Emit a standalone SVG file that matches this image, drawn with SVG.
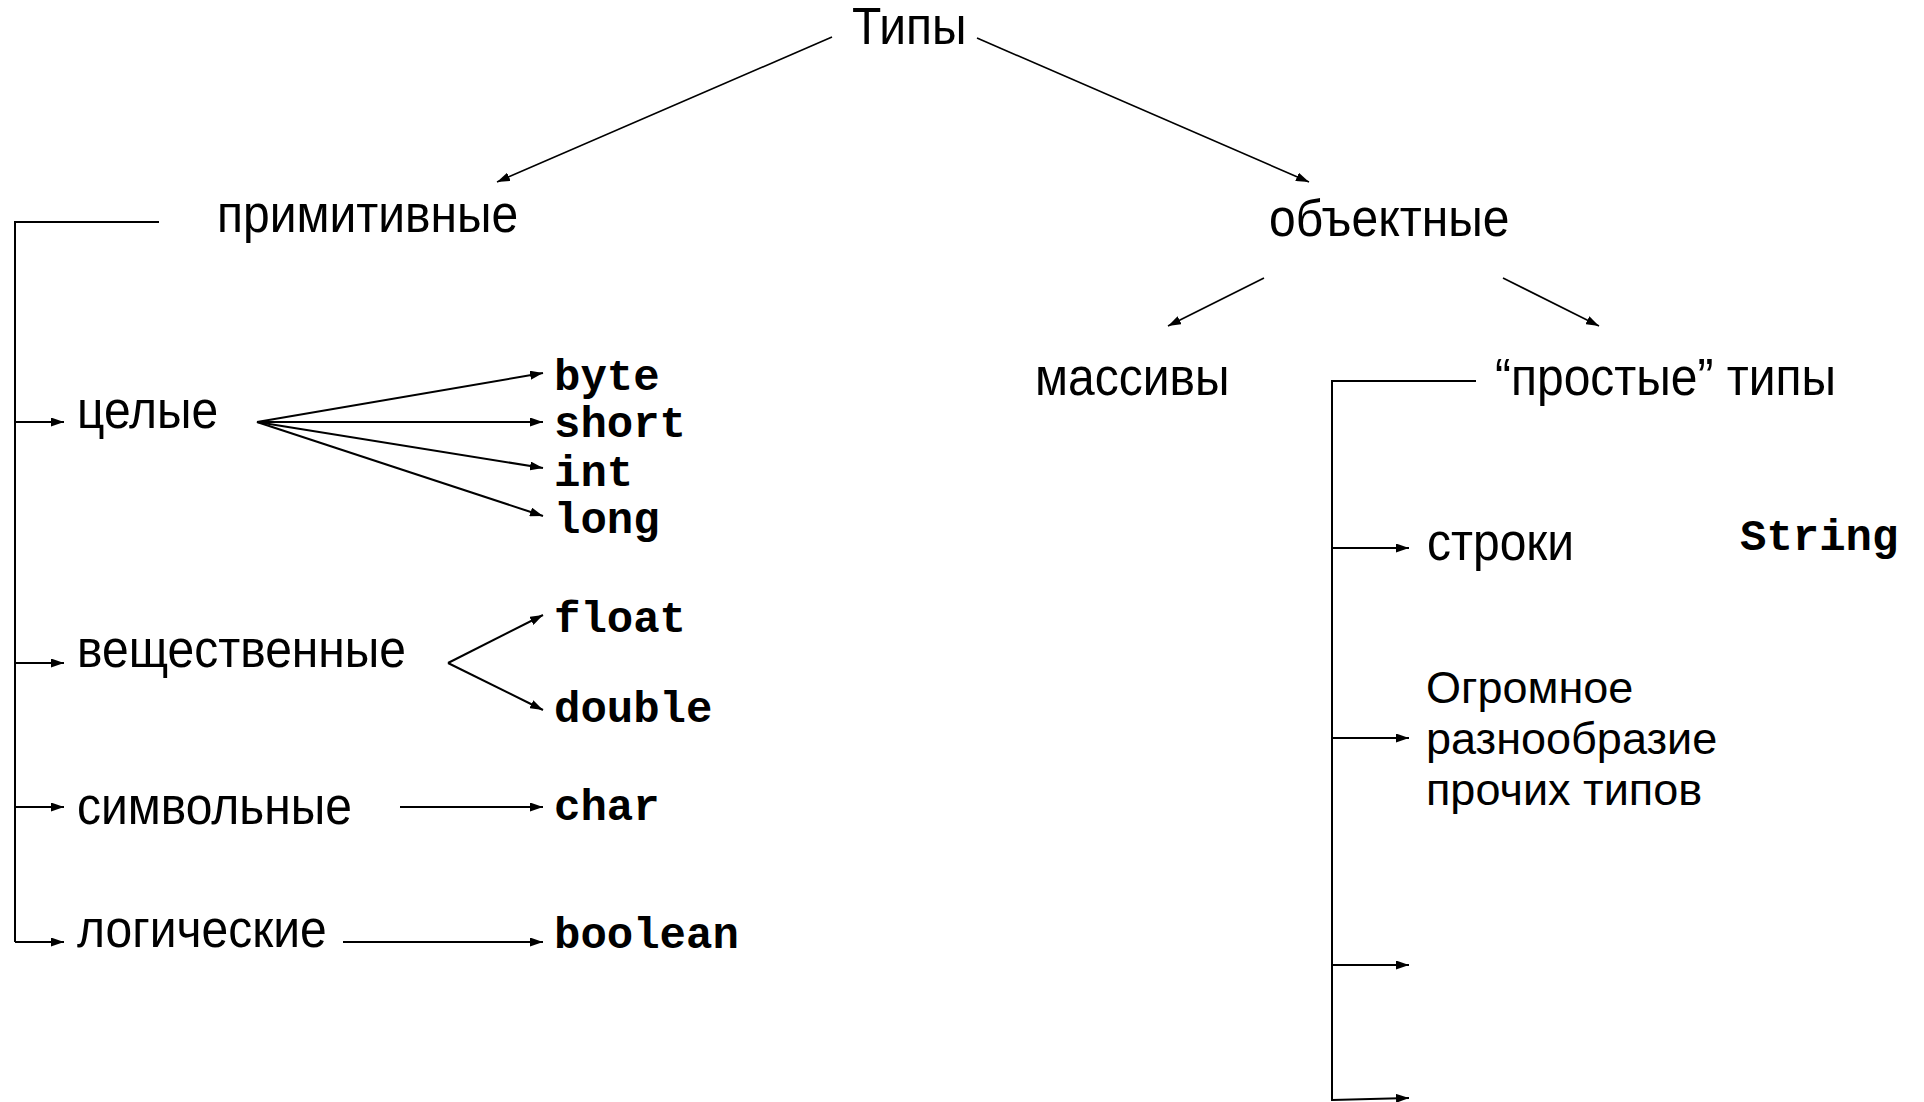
<svg xmlns="http://www.w3.org/2000/svg" width="1924" height="1102" viewBox="0 0 1924 1102">
<defs>
<marker id="ah" markerUnits="userSpaceOnUse" markerWidth="13" markerHeight="9" refX="13" refY="4.5" orient="auto">
<path d="M0,0 L13,4.5 L0,9 z" fill="#000"/>
</marker>
</defs>
<style>
.t{font-family:"Liberation Sans",Arial,sans-serif;font-size:48px;fill:#000}
.m{font-family:"Liberation Mono","Courier New",monospace;font-size:44px;font-weight:bold;fill:#000}
.c line,.c polyline{stroke:#000;stroke-width:2;fill:none}
.c .a{marker-end:url(#ah)}
.c .thin{stroke-width:1.6}
</style>
<rect width="1924" height="1102" fill="#fff"/>
<g id="n-types"><text class="t" transform="translate(852,44) scale(1,1.08)">Типы</text></g>
<g id="n-prim"><text class="t" transform="translate(217,232) scale(1,1.08)">примитивные</text></g>
<g id="n-obj"><text class="t" transform="translate(1269,236) scale(1,1.08)">объектные</text></g>
<g id="n-arr"><text class="t" transform="translate(1035,395) scale(1,1.08)">массивы</text></g>
<g id="n-simple"><text class="t" transform="translate(1495,395) scale(1,1.08)">“простые” типы</text></g>
<g id="n-int"><text class="t" transform="translate(77,428) scale(1,1.08)">целые</text></g>
<g id="n-real"><text class="t" transform="translate(77,667) scale(1,1.08)">вещественные</text></g>
<g id="n-sym"><text class="t" transform="translate(77,824) scale(1,1.08)">символьные</text></g>
<g id="n-log"><text class="t" transform="translate(77,947) scale(1,1.08)">логические</text></g>
<g id="n-byte"><text class="m" x="554" y="390">byte</text></g>
<g id="n-short"><text class="m" x="554" y="437">short</text></g>
<g id="n-intk"><text class="m" x="554" y="486">int</text></g>
<g id="n-long"><text class="m" x="554" y="533">long</text></g>
<g id="n-float"><text class="m" x="554" y="632">float</text></g>
<g id="n-double"><text class="m" x="554" y="722">double</text></g>
<g id="n-char"><text class="m" x="554" y="820">char</text></g>
<g id="n-boolean"><text class="m" x="554" y="948">boolean</text></g>
<g id="n-str"><text class="t" transform="translate(1427,560) scale(1,1.08)">строки</text></g>
<g id="n-String"><text class="m" x="1740" y="550">String</text></g>
<g id="n-other"><text class="t" style="font-size:45px" x="1426" y="703">Огромное</text><text class="t" style="font-size:45px" x="1426" y="754">разнообразие</text><text class="t" style="font-size:45px" x="1426" y="805">прочих типов</text></g>
<g id="connectors" class="c">
<line class="a thin" x1="832" y1="37" x2="497" y2="182"/>
<line class="a thin" x1="977" y1="38" x2="1309" y2="182"/>
<line class="a thin" x1="1264" y1="278" x2="1168" y2="326"/>
<line class="a thin" x1="1503" y1="278" x2="1599" y2="326"/>
<polyline points="159,222 15,222 15,942"/>
<line class="a" x1="15" y1="422" x2="64" y2="422"/>
<line class="a" x1="15" y1="663" x2="64" y2="663"/>
<line class="a" x1="15" y1="807" x2="64" y2="807"/>
<line class="a" x1="15" y1="942" x2="64" y2="942"/>
<line class="a" x1="257" y1="422" x2="543" y2="373"/>
<line class="a" x1="257" y1="422" x2="543" y2="422"/>
<line class="a" x1="257" y1="422" x2="543" y2="468"/>
<line class="a" x1="257" y1="422" x2="543" y2="516"/>
<line class="a" x1="448" y1="663" x2="543" y2="615"/>
<line class="a" x1="448" y1="663" x2="543" y2="710"/>
<line class="a" x1="400" y1="807" x2="543" y2="807"/>
<line class="a" x1="343" y1="942" x2="543" y2="942"/>
<polyline points="1476,381 1332,381 1332,1101"/>
<line class="a" x1="1332" y1="548" x2="1409" y2="548"/>
<line class="a" x1="1332" y1="738" x2="1409" y2="738"/>
<line class="a" x1="1332" y1="965" x2="1409" y2="965"/>
<line class="a" x1="1332" y1="1100" x2="1409" y2="1098"/>
</g>
</svg>
